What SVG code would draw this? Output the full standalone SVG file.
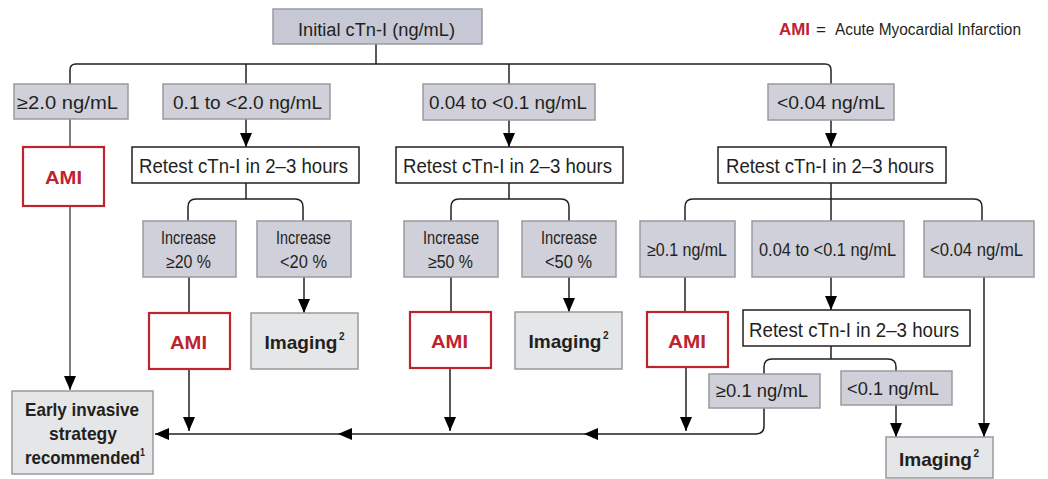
<svg xmlns="http://www.w3.org/2000/svg" width="1048" height="479" viewBox="0 0 1048 479">
<style>
.bx{fill:#cfd0da;stroke:#9a9a9e;stroke-width:1.5}
.top{fill:#c7c8d5;stroke:#9a9a9e;stroke-width:1.5}
.lt{fill:#e5e6e8;stroke:#9a9a9e;stroke-width:1.5}
.wh{fill:#fff;stroke:#231f20;stroke-width:1.5}
.rd{fill:#fff;stroke:#be2330;stroke-width:2.2}
.t{font-family:"Liberation Sans",Arial,sans-serif;fill:#231f20}
.b{font-family:"Liberation Sans",Arial,sans-serif;font-weight:bold;fill:#231f20}
.r{font-family:"Liberation Sans",Arial,sans-serif;font-weight:bold;fill:#be2330}
.ln{fill:none;stroke:#231f20;stroke-width:1.5}
</style>
<defs>
<marker id="ah" markerUnits="userSpaceOnUse" markerWidth="14" markerHeight="12" refX="14" refY="6" orient="auto" viewBox="0 0 14 12">
<path d="M0,0 L14,6 L0,12 z" fill="#000"/>
</marker>
</defs>

<g id="connectors">
<path class="ln" d="M376,44 V64"/>
<path class="ln" d="M70,84 V70 Q70,64 76,64 H825 Q831,64 831,70 V84"/>
<path class="ln" d="M246,64 V84"/>
<path class="ln" d="M509,64 V84"/>
<path class="ln" d="M70,119 V147" style="stroke:#555"/>
<path class="ln" d="M70,206 V390" style="stroke:#555" marker-end="url(#ah)"/>
<path class="ln" d="M246,119 V147" marker-end="url(#ah)"/>
<path class="ln" d="M509,120 V147" marker-end="url(#ah)"/>
<path class="ln" d="M831,120 V147" marker-end="url(#ah)"/>
<path class="ln" d="M246,183 V199"/>
<path class="ln" d="M188,221 V207 Q188,199 196,199 H295 Q303,199 303,207 V221"/>
<path class="ln" d="M509,183 V199"/>
<path class="ln" d="M451,221 V207 Q451,199 459,199 H561 Q569,199 569,207 V221"/>
<path class="ln" d="M831,183 V221"/>
<path class="ln" d="M685,221 V207 Q685,199 693,199 H974 Q982,199 982,207 V221"/>
<path class="ln" d="M189,277 V313"/>
<path class="ln" d="M304,277 V313" marker-end="url(#ah)"/>
<path class="ln" d="M451,277 V312"/>
<path class="ln" d="M569,277 V312" marker-end="url(#ah)"/>
<path class="ln" d="M685,277 V312"/>
<path class="ln" d="M831,277 V310" marker-end="url(#ah)"/>
<path class="ln" d="M984,277 V437" marker-end="url(#ah)"/>
<path class="ln" d="M831,346 V359"/>
<path class="ln" d="M764,374 V367 Q764,359 772,359 H888 Q896,359 896,367 V371"/>
<path class="ln" d="M896,405 V437" marker-end="url(#ah)"/>
<path class="ln" d="M764,408 V426 Q764,434 756,434 H584" marker-end="url(#ah)"/>
<path class="ln" d="M584,434 H338" marker-end="url(#ah)"/>
<path class="ln" d="M338,434 H155" marker-end="url(#ah)"/>
<path class="ln" d="M189,369 V431" marker-end="url(#ah)"/>
<path class="ln" d="M450,368 V431" marker-end="url(#ah)"/>
<path class="ln" d="M686,367 V431" marker-end="url(#ah)"/>
</g>

<g id="legend">
<text class="r" x="779" y="35" font-size="17" textLength="31" lengthAdjust="spacingAndGlyphs">AMI</text>
<text class="t" x="816" y="35" font-size="17">=</text>
<text class="t" x="835" y="35" font-size="17" textLength="186" lengthAdjust="spacingAndGlyphs">Acute Myocardial Infarction</text>
</g>

<g id="n-initial">
<rect class="top" x="273" y="9" width="209" height="35"/>
<text class="t" x="298" y="36" font-size="18" textLength="157" lengthAdjust="spacingAndGlyphs">Initial cTn-I (ng/mL)</text>
</g>

<g id="n-b1">
<rect class="bx" x="14" y="84" width="114" height="35"/>
<text class="t" x="17" y="109" font-size="18" textLength="101" lengthAdjust="spacingAndGlyphs">≥2.0 ng/mL</text>
</g>
<g id="n-b2">
<rect class="bx" x="163" y="84" width="167" height="35"/>
<text class="t" x="173" y="109" font-size="18" textLength="149" lengthAdjust="spacingAndGlyphs">0.1 to &lt;2.0 ng/mL</text>
</g>
<g id="n-b3">
<rect class="bx" x="423" y="84" width="172" height="36"/>
<text class="t" x="429" y="109" font-size="18" textLength="158" lengthAdjust="spacingAndGlyphs">0.04 to &lt;0.1 ng/mL</text>
</g>
<g id="n-b4">
<rect class="bx" x="768" y="84" width="126" height="36"/>
<text class="t" x="777" y="109" font-size="18" textLength="108" lengthAdjust="spacingAndGlyphs">&lt;0.04 ng/mL</text>
</g>

<g id="n-ami0">
<rect class="rd" x="23" y="147" width="81" height="59"/>
<text class="r" x="45" y="184" font-size="19" textLength="37" lengthAdjust="spacingAndGlyphs">AMI</text>
</g>

<g id="n-r1">
<rect class="wh" x="132" y="147" width="227" height="36"/>
<text class="t" x="139" y="173" font-size="20" textLength="209" lengthAdjust="spacingAndGlyphs">Retest cTn-I in 2–3 hours</text>
</g>
<g id="n-r2">
<rect class="wh" x="396" y="147" width="227" height="36"/>
<text class="t" x="403" y="173" font-size="20" textLength="209" lengthAdjust="spacingAndGlyphs">Retest cTn-I in 2–3 hours</text>
</g>
<g id="n-r3">
<rect class="wh" x="718" y="147" width="228" height="36"/>
<text class="t" x="726" y="173" font-size="20" textLength="208" lengthAdjust="spacingAndGlyphs">Retest cTn-I in 2–3 hours</text>
</g>

<g id="n-i1">
<rect class="bx" x="143" y="221" width="93" height="56"/>
<text class="t" x="161" y="244" font-size="17.5" textLength="55" lengthAdjust="spacingAndGlyphs">Increase</text>
<text class="t" x="166" y="268" font-size="17.5" textLength="45" lengthAdjust="spacingAndGlyphs">≥20 %</text>
</g>
<g id="n-i2">
<rect class="bx" x="257" y="221" width="94" height="56"/>
<text class="t" x="276" y="244" font-size="17.5" textLength="55" lengthAdjust="spacingAndGlyphs">Increase</text>
<text class="t" x="280" y="268" font-size="17.5" textLength="47" lengthAdjust="spacingAndGlyphs">&lt;20 %</text>
</g>
<g id="n-i3">
<rect class="bx" x="404" y="221" width="94" height="56"/>
<text class="t" x="423" y="244" font-size="17.5" textLength="56" lengthAdjust="spacingAndGlyphs">Increase</text>
<text class="t" x="428" y="268" font-size="17.5" textLength="45" lengthAdjust="spacingAndGlyphs">≥50 %</text>
</g>
<g id="n-i4">
<rect class="bx" x="522" y="221" width="94" height="56"/>
<text class="t" x="541" y="244" font-size="17.5" textLength="56" lengthAdjust="spacingAndGlyphs">Increase</text>
<text class="t" x="545" y="268" font-size="17.5" textLength="47" lengthAdjust="spacingAndGlyphs">&lt;50 %</text>
</g>
<g id="n-i5">
<rect class="bx" x="640" y="221" width="95" height="56"/>
<text class="t" x="647" y="256" font-size="17.5" textLength="80" lengthAdjust="spacingAndGlyphs">≥0.1 ng/mL</text>
</g>
<g id="n-i6">
<rect class="bx" x="752" y="221" width="152" height="56"/>
<text class="t" x="759" y="256" font-size="17.5" textLength="137" lengthAdjust="spacingAndGlyphs">0.04 to &lt;0.1 ng/mL</text>
</g>
<g id="n-i7">
<rect class="bx" x="924" y="221" width="110" height="56"/>
<text class="t" x="930" y="256" font-size="17.5" textLength="93" lengthAdjust="spacingAndGlyphs">&lt;0.04 ng/mL</text>
</g>

<g id="n-ami1">
<rect class="rd" x="149" y="313" width="81" height="56"/>
<text class="r" x="170" y="349" font-size="19" textLength="37" lengthAdjust="spacingAndGlyphs">AMI</text>
</g>
<g id="n-img1">
<rect class="lt" x="251" y="313" width="107" height="56"/>
<text class="b" x="264.5" y="349" font-size="19" textLength="73" lengthAdjust="spacingAndGlyphs">Imaging</text>
<text class="b" x="339" y="340" font-size="10">2</text>
</g>
<g id="n-ami2">
<rect class="rd" x="410" y="312" width="81" height="56"/>
<text class="r" x="431" y="348" font-size="19" textLength="37" lengthAdjust="spacingAndGlyphs">AMI</text>
</g>
<g id="n-img2">
<rect class="lt" x="515" y="312" width="107" height="57"/>
<text class="b" x="528.5" y="348" font-size="19" textLength="73" lengthAdjust="spacingAndGlyphs">Imaging</text>
<text class="b" x="603" y="339" font-size="10">2</text>
</g>
<g id="n-ami3">
<rect class="rd" x="647" y="312" width="81" height="55"/>
<text class="r" x="668" y="348" font-size="19" textLength="38" lengthAdjust="spacingAndGlyphs">AMI</text>
</g>

<g id="n-r4">
<rect class="wh" x="743" y="310" width="227" height="36"/>
<text class="t" x="749" y="337" font-size="20" textLength="210" lengthAdjust="spacingAndGlyphs">Retest cTn-I in 2–3 hours</text>
</g>
<g id="n-i8">
<rect class="bx" x="709" y="374" width="111" height="34"/>
<text class="t" x="716" y="397" font-size="18" textLength="92" lengthAdjust="spacingAndGlyphs">≥0.1 ng/mL</text>
</g>
<g id="n-i9">
<rect class="bx" x="841" y="371" width="111" height="34"/>
<text class="t" x="847" y="395" font-size="18" textLength="92" lengthAdjust="spacingAndGlyphs">&lt;0.1 ng/mL</text>
</g>

<g id="n-early">
<rect class="lt" x="12" y="391" width="141" height="83"/>
<text class="b" x="25" y="416" font-size="19" textLength="114" lengthAdjust="spacingAndGlyphs">Early invasive</text>
<text class="b" x="49" y="440" font-size="19" textLength="68" lengthAdjust="spacingAndGlyphs">strategy</text>
<text class="b" x="25" y="464" font-size="19" textLength="120" lengthAdjust="spacingAndGlyphs">recommended<tspan dy="-8" font-size="10">1</tspan></text>
</g>

<g id="n-img3">
<rect class="lt" x="886" y="437" width="107" height="41"/>
<text class="b" x="899" y="466" font-size="19" textLength="73" lengthAdjust="spacingAndGlyphs">Imaging</text>
<text class="b" x="973.5" y="457" font-size="10">2</text>
</g>
</svg>
